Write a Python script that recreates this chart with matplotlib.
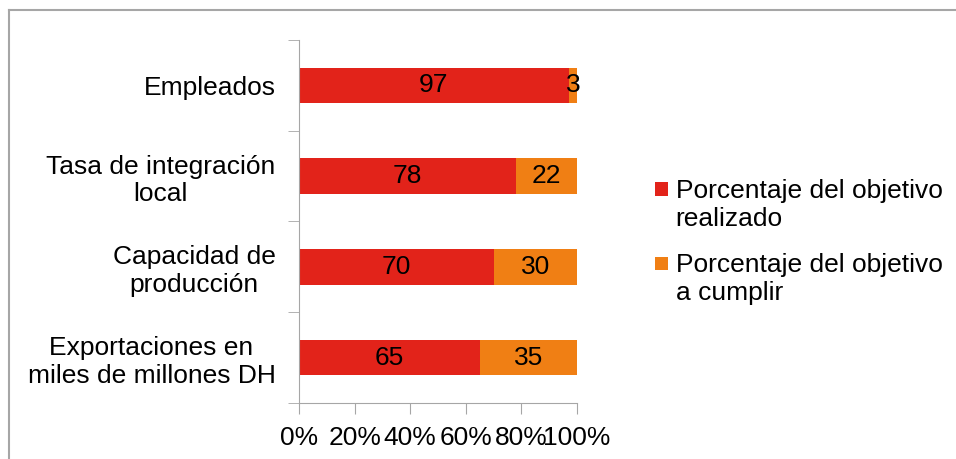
import numpy as np
import matplotlib.pyplot as plt
from matplotlib.lines import Line2D
from matplotlib.patches import Rectangle
from matplotlib.legend_handler import HandlerPatch

plt.rcParams['font.family'] = ['Liberation Sans', 'DejaVu Sans']

categories = ["Empleados", "Tasa de integración\nlocal", "Capacidad de\nproducción",
              "Exportaciones en\nmiles de millones DH"]
realizado = [97, 78, 70, 65]
a_cumplir = [3, 22, 30, 35]
series_names = ["Porcentaje del objetivo\nrealizado", "Porcentaje del objetivo\na cumplir"]
colours = ["#E2231A", "#F07F14"]
x_ticks = [0, 20, 40, 60, 80, 100]

FS = 19

fig = plt.figure(figsize=(9.56, 4.59), dpi=100)
ax = fig.add_axes([0.3128, 0.122, 0.2908, 0.791])

y = np.arange(len(categories))
h = 0.39
b1 = ax.barh(y, realizado, height=h, color=colours[0], label=series_names[0])
b2 = ax.barh(y, a_cumplir, left=realizado, height=h, color=colours[1], label=series_names[1])

for yi, r, c in zip(y, realizado, a_cumplir):
    ax.text(r / 2, yi, str(r), ha='center', va='center', fontsize=FS, color='black')
    ax.text(r + c / 2, yi, str(c), ha='center', va='center', fontsize=FS, color='black')

ax.set_xlim(0, 100)
ax.set_ylim(len(categories) - 0.5, -0.5)
ax.set_xticks(x_ticks)
ax.set_xticklabels([f"{t}%" for t in x_ticks])
ax.set_yticks(y)
ax.set_yticklabels(categories, multialignment='center')
ax.set_yticks(np.arange(len(categories) + 1) - 0.5, minor=True)

grey = "#A6A6A6"
for s in ['top', 'right']:
    ax.spines[s].set_visible(False)
for s in ['left', 'bottom']:
    ax.spines[s].set_color(grey)
ax.tick_params(axis='y', which='major', length=0, pad=17, labelsize=FS)
ax.tick_params(axis='y', which='minor', length=8, color=grey)
ax.tick_params(axis='x', length=8, color=grey, labelsize=FS, pad=8.5)


def top_square(legend, orig_handle, xdescent, ydescent, width, height, fontsize):
    s = 0.52 * fontsize
    return Rectangle((-xdescent + width - s, -ydescent + height / 2 - s / 2 + 0.6 * fontsize), s, s)


h1, h2 = b1.patches[0], b2.patches[0]
fig.legend([h1, h2], series_names, loc='center left', bbox_to_anchor=(0.655, 0.473),
           frameon=False, fontsize=FS, handletextpad=0.27, labelspacing=0.85,
           handlelength=0.7, handler_map={h1: HandlerPatch(patch_func=top_square),
                                          h2: HandlerPatch(patch_func=top_square)})

# outer border (only top and left visible)
fig.add_artist(Line2D([0.0095, 1.0], [0.979, 0.979], transform=fig.transFigure, color=grey, lw=1.5))
fig.add_artist(Line2D([0.0095, 0.0095], [0.0, 0.979], transform=fig.transFigure, color=grey, lw=1.5))

fig.savefig("out.png", dpi=100)
